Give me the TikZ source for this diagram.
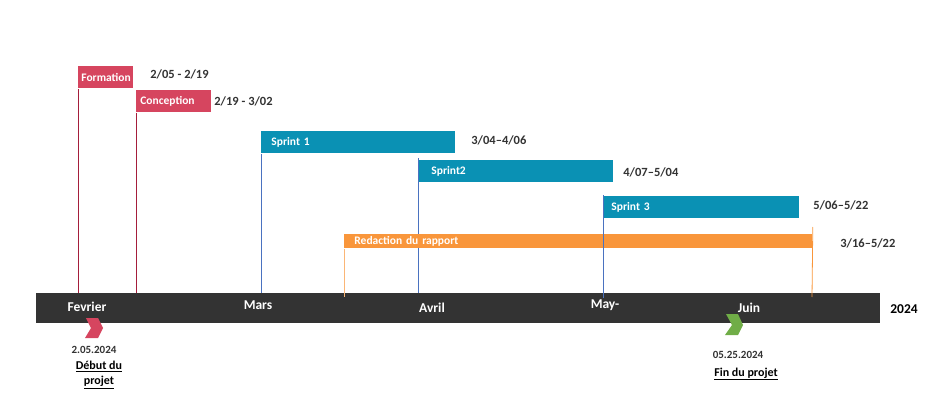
\documentclass[tikz,border=0pt]{standalone}
\usepackage{fontspec}
\setmainfont{Carlito}
\definecolor{formpink}{HTML}{D6455F}
\definecolor{linered}{HTML}{A51E3B}
\definecolor{sprintblue}{HTML}{0A91B4}
\definecolor{lineblue}{HTML}{4A72C0}
\definecolor{rapportorange}{HTML}{F9963B}
\definecolor{axisgray}{HTML}{333333}
\definecolor{fingreen}{HTML}{70AD47}
\tikzset{
  taskbar/.style={anchor=north west,inner ysep=0pt,minimum height=22,align=left,text=white,font=\bfseries\fontsize{11.5}{13}\selectfont},
  datelabel/.style={anchor=west,inner sep=0pt,text=axisgray,font=\bfseries\fontsize{12.5}{14}\selectfont},
  monthlabel/.style={anchor=center,inner sep=0pt,text=white,font=\bfseries\fontsize{13.5}{15}\selectfont}
}
\begin{document}
\begin{tikzpicture}[x=1pt,y=-1pt,line width=.8pt]
\path[use as bounding box] (0,0) rectangle (931,417);
% task bars
\node[taskbar,fill=formpink,inner xsep=3,text width=49] (formation) at (78,66) {Formation};
\node[taskbar,fill=formpink,inner xsep=4,text width=67] (conception) at (136,90) {Conception};
\node[taskbar,fill=sprintblue,inner xsep=10,text width=174] (sprintone) at (261,131) {Sprint 1};
\node[taskbar,fill=sprintblue,inner xsep=13,text width=169] (sprinttwo) at (418,160) {Sprint2};
\node[taskbar,fill=sprintblue,inner xsep=8,text width=180] (sprintthree) at (603,196) {Sprint 3};
% dates
\node[datelabel] (dformation) at (150,74) {2/05 - 2/19};
\node[datelabel] (dconception) at (214,101) {2/19 - 3/02};
\node[datelabel] (dsprintone) at (471,140) {3/04--4/06};
\node[datelabel] (dsprinttwo) at (623,172) {4/07--5/04};
\node[datelabel] (dsprintthree) at (813,205) {5/06--5/22};
\node[datelabel] (drapport) at (840,243) {3/16--5/22};
% axis
\node[anchor=north west,fill=axisgray,minimum width=844,minimum height=30,inner sep=0pt] (axis) at (36,293) {};
\coordinate (tformation) at (78,293);
\coordinate (tconception) at (136,293);
\coordinate (tsprintone) at (261,293);
\coordinate (tsprinttwo) at (418,293);
\coordinate (tsprintthree) at (603,298);
\coordinate (trapportl) at (344,297);
\coordinate (trapportr) at (812,297);
\draw[linered] (formation.south west) -- (tformation);
\draw[linered] (conception.south west) -- (tconception);
\draw[lineblue] (sprintone.south west) -- (tsprintone);
\draw[lineblue] ([yshift=2]sprinttwo.north west) -- (tsprinttwo);
\node[taskbar,fill=rapportorange,inner xsep=10,text width=448,minimum height=14] (rapport) at (344,234) {Redaction du rapport};
\draw[lineblue] ([yshift=1]sprintthree.north west) -- (tsprintthree);
\draw[rapportorange!70] (rapport.south west) -- (trapportl);
\draw[rapportorange] ([yshift=7]rapport.north east) -- (trapportr);
\node[monthlabel] (fevrier) at (87,307) {Fevrier};
\node[monthlabel] (mars) at (258,305) {Mars};
\node[monthlabel] (avril) at (432,308) {Avril};
\node[monthlabel] (mai) at (605,305) {May-};
\node[monthlabel] (juin) at (749,308) {Juin};
\node[monthlabel,text=black] (annee) at (904,309) {2024};
% milestones
\fill[formpink] (86,318) -- (98,318) -- (103,328) -- (98,338) -- (85,338) -- (91,328) -- cycle;
\fill[fingreen] (726,314) -- (738,314) -- (743,325) -- (738,335) -- (725,335) -- (732,325) -- cycle;
\node[anchor=center,inner sep=0pt,text=axisgray,font=\bfseries\fontsize{11}{12}\selectfont] (ddebut) at (94,350) {2.05.2024};
\node[anchor=north,inner sep=0pt,align=center,font=\bfseries\fontsize{12}{15}\selectfont] (debut) at (99,361) {\underline{Début du}\\\underline{projet}};
\node[anchor=center,inner sep=0pt,text=axisgray,font=\bfseries\fontsize{11}{12}\selectfont] (dfin) at (738,355) {05.25.2024};
\node[anchor=center,inner sep=0pt,font=\bfseries\fontsize{12}{15}\selectfont] (fin) at (746,374) {\underline{Fin du projet}};
\end{tikzpicture}
\end{document}
